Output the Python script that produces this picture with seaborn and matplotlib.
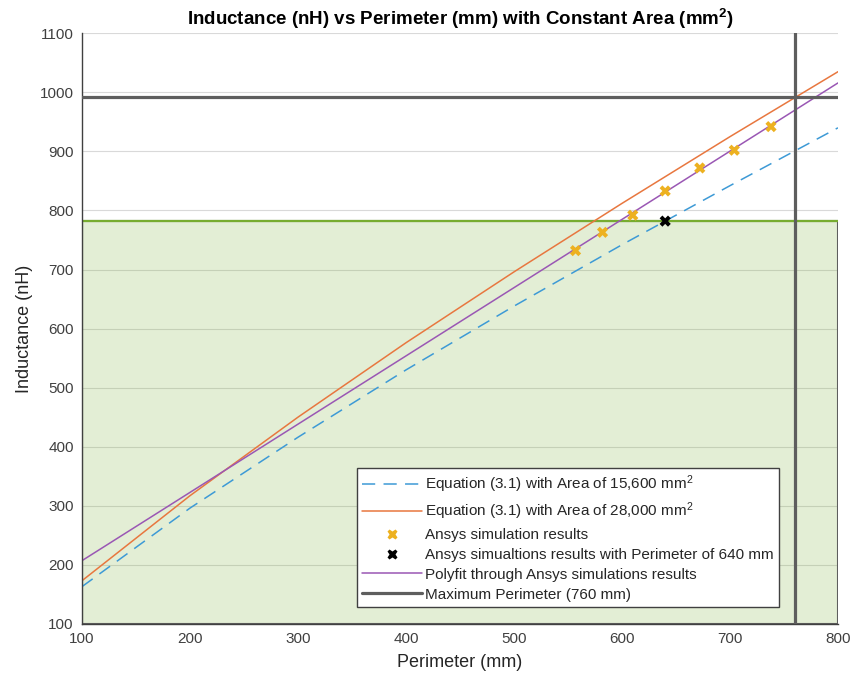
import numpy as np
import matplotlib
matplotlib.use("Agg")
import matplotlib.pyplot as plt
import seaborn as sns
from matplotlib.colors import to_rgba
from matplotlib.lines import Line2D

# ---------------------------------------------------------------------------
# Data
# ---------------------------------------------------------------------------

perim_grid = [100, 200, 300, 400, 500, 600, 700, 800]
L_area_15600 = [163, 296, 416, 530, 638, 742, 842, 940]
L_area_28000 = [173, 317, 450, 576, 696, 812, 925, 1035]

ansys_perim = [557, 582, 610, 640, 672, 704, 738]
ansys_L = [732, 763, 792, 833, 872, 902, 942]

perim_640 = [640]
L_perim_640 = [782]

polyfit_perim = [100, 800]
polyfit_L = [207, 1016]

max_perimeter = 760
max_inductance = 992
target_inductance = 782

x_ticks = [100, 200, 300, 400, 500, 600, 700, 800]
y_ticks = [100, 200, 300, 400, 500, 600, 700, 800, 900, 1000, 1100]

# ---------------------------------------------------------------------------
# Style
# ---------------------------------------------------------------------------

sns.set_theme(style="white")
plt.rcParams["font.family"] = ["Liberation Sans", "DejaVu Sans"]
plt.rcParams["mathtext.fontset"] = "custom"
plt.rcParams["mathtext.rm"] = "Liberation Sans"
plt.rcParams["mathtext.bf"] = "Liberation Sans:bold"
plt.rcParams["mathtext.default"] = "regular"
plt.rcParams["lines.scale_dashes"] = False

c_blue = "#3D9AD6"
c_orange = "#E8773F"
c_yellow = "#EDB120"
c_purple = "#9A57B4"
c_gray = "#5E5E5E"
c_green = "#77AC30"
c_axis = "#404040"

fig = plt.figure(figsize=(8.55, 6.8), dpi=100)
ax = fig.add_axes([0.0959, 0.0826, 0.8842, 0.8684])

# shaded region below the target inductance
ax.axhspan(y_ticks[0], target_inductance, facecolor=to_rgba(c_green, 0.2),
           edgecolor=c_gray, linewidth=1.5, zorder=1)
ax.axhline(target_inductance, color=c_green, linewidth=1.6, zorder=1.5)

sns.lineplot(x=perim_grid, y=L_area_15600, color=c_blue, linewidth=1.1,
             linestyle=(0, (9.5, 6)), ax=ax, zorder=2)
sns.lineplot(x=perim_grid, y=L_area_28000, color=c_orange, linewidth=1.1, ax=ax, zorder=2)
sns.lineplot(x=polyfit_perim, y=polyfit_L, color=c_purple, linewidth=1.1, ax=ax, zorder=2)
sns.scatterplot(x=ansys_perim, y=ansys_L, marker="X", s=65, color=c_yellow,
                edgecolor="none", ax=ax, zorder=3)
sns.scatterplot(x=perim_640, y=L_perim_640, marker="X", s=65, color="black",
                edgecolor="none", ax=ax, zorder=3)

ax.axhline(max_inductance, color=c_gray, linewidth=2.3, zorder=4)
ax.axvline(max_perimeter, color=c_gray, linewidth=2.3, zorder=4)

# ---------------------------------------------------------------------------
# Axes
# ---------------------------------------------------------------------------

ax.set_xlim(x_ticks[0], x_ticks[-1])
ax.set_ylim(y_ticks[0], y_ticks[-1])
ax.set_xticks(x_ticks)
ax.set_yticks(y_ticks)
ax.tick_params(direction="in", length=4, width=0.8, colors=c_axis, labelsize=11,
               labelcolor=c_axis, pad=6)
ax.grid(axis="y", color="#d9d9d9", linewidth=0.8, zorder=0)
ax.set_axisbelow(True)
for side in ["top", "right"]:
    ax.spines[side].set_visible(False)
for side in ["left", "bottom"]:
    ax.spines[side].set_color(c_axis)
    ax.spines[side].set_linewidth(1.0)

ax.set_xlabel("Perimeter (mm)", fontsize=13, color="#262626", labelpad=6)
ax.set_ylabel("Inductance (nH)", fontsize=13, color="#262626", labelpad=5)
ax.set_title(r"Inductance (nH) vs Perimeter (mm) with Constant Area (mm$^\mathbf{2}$)",
             fontsize=13.5, fontweight="bold", color="black", pad=6)

handles = [
    Line2D([], [], color=c_blue, linewidth=1.1, linestyle=(0, (9.5, 6))),
    Line2D([], [], color=c_orange, linewidth=1.1),
    Line2D([], [], color=c_yellow, marker="X", markersize=7.5, linestyle="none",
           markeredgecolor="none"),
    Line2D([], [], color="black", marker="X", markersize=7.5, linestyle="none",
           markeredgecolor="none"),
    Line2D([], [], color=c_purple, linewidth=1.1),
    Line2D([], [], color=c_gray, linewidth=2.3),
]
labels = [
    "Equation (3.1) with Area of 15,600 mm$^2$",
    "Equation (3.1) with Area of 28,000 mm$^2$",
    "Ansys simulation results",
    "Ansys simualtions results with Perimeter of 640 mm",
    "Polyfit through Ansys simulations results",
    "Maximum Perimeter (760 mm)",
]
leg = ax.legend(handles, labels, loc="upper left", bbox_to_anchor=(357 / 855, 1 - 468 / 680),
                bbox_transform=fig.transFigure, borderaxespad=0, fontsize=11,
                handlelength=3.9, handletextpad=0.2, labelspacing=0.38,
                borderpad=0.35, fancybox=False, framealpha=1, edgecolor=c_axis)
leg.get_frame().set_linewidth(1.0)
leg.set_zorder(10)
for txt in leg.get_texts():
    txt.set_color("#262626")

fig.savefig("out.png", dpi=100)
